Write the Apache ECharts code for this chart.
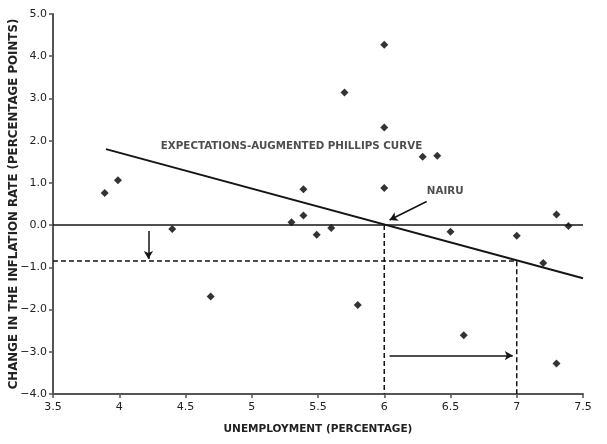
<!DOCTYPE html>
<html>
<head>
<meta charset="utf-8">
<script src="https://cdn.jsdelivr.net/npm/echarts@6/dist/echarts.min.js"></script>
<style>
  html, body { margin: 0; padding: 0; background: #fff; }
  #chart { width: 607px; height: 444px; }
</style>
</head>
<body>
<div id="chart"></div>
<script>
// observed points (unemployment %, change in inflation pp)
var unemployment = [3.89, 3.99, 4.40, 4.69, 5.30, 5.39, 5.39, 5.49, 5.60, 5.70, 5.80, 6.00, 6.00, 6.00, 6.29, 6.40, 6.50, 6.60, 7.00, 7.20, 7.30, 7.30, 7.39];
var inflationChange = [0.76, 1.06, -0.09, -1.69, 0.07, 0.85, 0.23, -0.23, -0.07, 3.14, -1.89, 4.27, 2.31, 0.88, 1.62, 1.64, -0.16, -2.61, -0.25, -0.90, 0.25, -3.28, -0.02];
// phillips curve end points
var curveX = [3.9, 7.5];
var curveY = [1.8, -1.26];
var nairu = 6;
var targetU = 7;
var lowerInflation = -0.85;
var xTicks = [3.5, 4, 4.5, 5, 5.5, 6, 6.5, 7, 7.5];
var yTicks = [-4, -3, -2, -1, 0, 1, 2, 3, 4, 5];

var ink = '#151515';
var font = 'DejaVu Sans';

var points = unemployment.map(function (u, i) { return [u, inflationChange[i]]; });
var curve = curveX.map(function (x, i) { return [x, curveY[i]]; });

var myChart = echarts.init(document.getElementById('chart'));
var option = {
    animation: false,
    backgroundColor: '#fff',
    grid: { left: 53, right: 24, top: 14, bottom: 50, containLabel: false, outerBoundsMode: 'none' },
    xAxis: {
        type: 'value',
        min: xTicks[0], max: xTicks[xTicks.length - 1], interval: 0.5,
        name: 'UNEMPLOYMENT (PERCENTAGE)',
        nameLocation: 'middle', nameGap: 30, nameMoveOverlap: false,
        nameTextStyle: { fontFamily: font, fontWeight: 'bold', fontSize: 10.5, color: '#222' },
        axisLine: { onZero: false, lineStyle: { color: '#555', width: 2 } },
        axisTick: { show: true, length: 4, lineStyle: { color: '#555', width: 1.5 } },
        axisLabel: { fontFamily: font, fontSize: 11, color: '#222', margin: 8 },
        splitLine: { show: false }
    },
    yAxis: {
        type: 'value',
        min: yTicks[0], max: yTicks[yTicks.length - 1], interval: 1,
        name: 'CHANGE IN THE INFLATION RATE (PERCENTAGE POINTS)',
        nameLocation: 'middle', nameGap: 33, nameMoveOverlap: false,
        nameTextStyle: { fontFamily: font, fontWeight: 'bold', fontSize: 11.8, color: '#222' },
        axisLine: { onZero: false, lineStyle: { color: '#555', width: 2 } },
        axisTick: { show: true, length: 4, lineStyle: { color: '#555', width: 1.5 } },
        axisLabel: {
            fontFamily: font, fontSize: 11, color: '#222', margin: 6,
            formatter: function (v) { return (v < 0 ? '\u2212' : '') + Math.abs(v).toFixed(1); }
        },
        splitLine: { show: false }
    },
    series: [
        {
            name: 'zero',
            type: 'line',
            data: [[xTicks[0], 0], [xTicks[xTicks.length - 1], 0]],
            symbol: 'none',
            lineStyle: { color: ink, width: 1.5 },
            silent: true
        },
        {
            name: 'dashes',
            type: 'line',
            data: [[xTicks[0], lowerInflation], [targetU, lowerInflation], [targetU, yTicks[0]]],
            symbol: 'none',
            lineStyle: { color: ink, width: 1.5, type: [5, 3] },
            silent: true
        },
        {
            name: 'nairu-drop',
            type: 'line',
            data: [[nairu, 0], [nairu, yTicks[0]]],
            symbol: 'none',
            lineStyle: { color: ink, width: 1.5, type: [5, 3] },
            silent: true
        },
        {
            name: 'curve',
            type: 'line',
            data: curve,
            symbol: 'none',
            lineStyle: { color: ink, width: 2 },
            silent: true,
            markLine: {
                silent: true,
                symbol: ['none', 'arrow'],
                symbolSize: [7, 8],
                label: { show: false },
                lineStyle: { color: ink, width: 1.5, type: 'solid' },
                data: [
                    [{ coord: [4.22, -0.14] }, { coord: [4.22, -0.8] }],
                    [{ coord: [6.04, -3.09] }, { coord: [6.97, -3.09] }],
                    [{ coord: [6.32, 0.56] }, { coord: [6.04, 0.12] }]
                ]
            }
        },
        {
            name: 'points',
            type: 'scatter',
            data: points,
            symbol: 'diamond',
            symbolSize: 8,
            itemStyle: { color: '#000' }
        },
        {
            name: 'labels',
            type: 'scatter',
            symbolSize: 0,
            silent: true,
            data: [
                { value: [5.3, 1.87], name: 'EXPECTATIONS-AUGMENTED PHILLIPS CURVE' },
                { value: [6.46, 0.79], name: 'NAIRU' }
            ],
            label: {
                show: true, position: 'inside',
                formatter: '{b}',
                fontFamily: font, fontWeight: 'bold', fontSize: 10.3, color: '#222'
            }
        }
    ]
};
myChart.setOption(option);
</script>
</body>
</html>
